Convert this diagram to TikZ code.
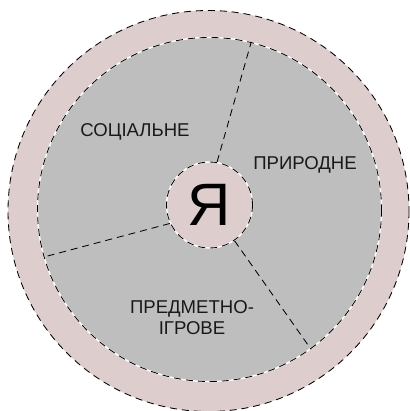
\documentclass[tikz,border=0pt]{standalone}
\usepackage{fontspec}
\setmainfont{Liberation Sans}
\begin{document}
\begin{tikzpicture}[x=0.025cm,y=-0.025cm]
\definecolor{ringpink}{RGB}{221,205,205}
\definecolor{fieldgray}{RGB}{190,190,190}
\tikzset{rim/.style={draw=black, dash pattern=on 5pt off 3.5pt, line width=0.6pt},
  sphere/.style={font=\fontsize{13.2}{15}\selectfont, text=black!90, align=center}}
\useasboundingbox (0,0) rectangle (409,411);
\fill[ringpink] (208.5,211) circle (200.5);
\draw[rim] (208.5,211) circle (200.5);
\node[circle, inner sep=0pt, minimum size=8.6cm, fill=fieldgray, draw=white, line width=1pt] (world) at (209.5,209.5) {};
\draw[rim] (world) circle (172);
\node[circle, inner sep=0pt, minimum size=2.15cm, fill=ringpink, draw=white, line width=1pt] (me) at (209.5,205) {};
\draw[rim] (me) circle (43);
\node[font=\fontsize{42.6}{44}\selectfont] at (me) {Я};
\draw[rim] (me.80) -- (world.76.7);
\draw[rim] (me.205.7) -- (world.196);
\draw[rim] (me.305) -- (world.306);
\node[sphere] (social) at (135,132) {СОЦІАЛЬНЕ};
\node[sphere] (nature) at (305,165) {ПРИРОДНЕ};
\node[sphere] (objects) at (192,318) {ПРЕДМЕТНО-\\ІГРОВЕ};
\end{tikzpicture}
\end{document}
